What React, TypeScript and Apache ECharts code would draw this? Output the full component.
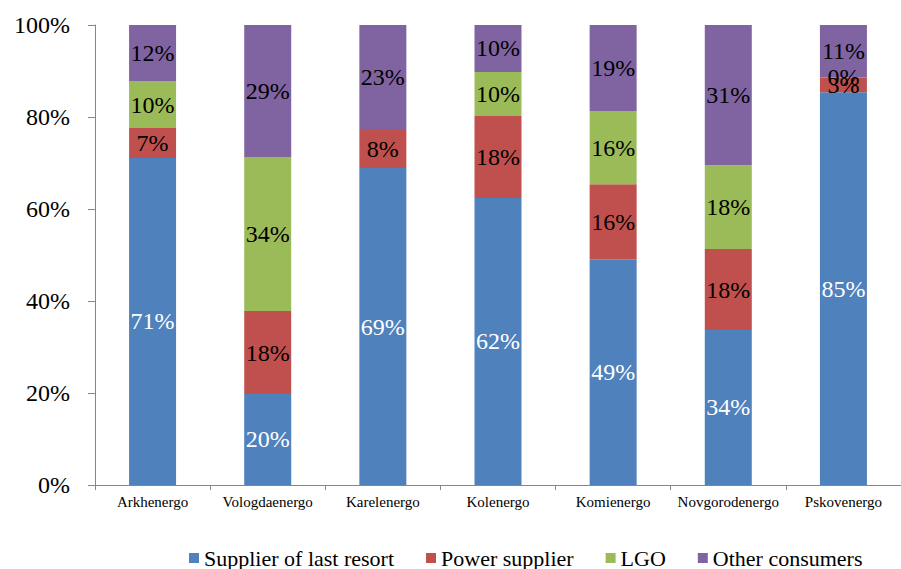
import React, { useEffect, useRef } from "react";
import * as echarts from "echarts";

const categories = ["Arkhenergo", "Vologdaenergo", "Karelenergo", "Kolenergo", "Komienergo", "Novgorodenergo", "Pskovenergo"];
const supplierOfLastResort = [71.1, 19.8, 68.9, 62.4, 49.1, 33.7, 85.4];
const powerSupplier = [6.5, 18.0, 8.3, 17.8, 16.3, 17.6, 3.2];
const lgo: (number | null)[] = [10.2, 33.5, null, 9.6, 15.9, 18.2, 0];
const otherConsumers = [12.2, 28.7, 22.8, 10.2, 18.7, 30.5, 11.4];

const FONT = "Liberation Serif";

export default function App() {
  const ref = useRef<HTMLDivElement>(null);
  useEffect(() => {
    if (!ref.current) return;
    const chart = echarts.init(ref.current, null, { renderer: "svg" });
    const mk = (name: string, data: (number | null)[], color: string, labelColor: string) => ({
      name,
      type: "bar",
      stack: "total",
      data,
      barWidth: 47,
      itemStyle: { color },
      label: {
        show: true,
        position: "inside",
        color: labelColor,
        fontFamily: FONT,
        fontSize: 24,
        formatter: (p: any) => (p.value == null ? "" : Math.round(p.value) + "%"),
      },
    });
    chart.setOption({
      animation: false,
      textStyle: { fontFamily: FONT },
      grid: { left: 95, top: 25, width: 814, height: 460, containLabel: false },
      legend: {
        top: 547,
        left: 189,
        padding: 0,
        itemWidth: 10,
        itemHeight: 10,
        itemGap: 32,
        icon: "rect",
        textStyle: { fontFamily: FONT, fontSize: 22, color: "#000" },
        data: ["Supplier of last resort", "Power supplier", "LGO", "Other consumers"],
      },
      xAxis: {
        type: "category",
        data: categories,
        axisLine: { lineStyle: { color: "#868686" } },
        axisTick: { show: true, length: 5, lineStyle: { color: "#868686" } },
        axisLabel: { color: "#000", fontFamily: FONT, fontSize: 15, margin: 9, interval: 0 },
      },
      yAxis: {
        type: "value",
        min: 0,
        max: 100,
        interval: 20,
        splitLine: { show: false },
        axisLine: { show: true, lineStyle: { color: "#868686" } },
        axisTick: { show: true, length: 7, lineStyle: { color: "#868686" } },
        axisLabel: { color: "#000", fontFamily: FONT, fontSize: 24, margin: 25, formatter: "{value}%" },
      },
      series: [
        mk("Supplier of last resort", supplierOfLastResort, "#4F81BD", "#fff"),
        mk("Power supplier", powerSupplier, "#C0504D", "#000"),
        mk("LGO", lgo, "#9BBB59", "#000"),
        mk("Other consumers", otherConsumers, "#8064A2", "#000"),
      ],
    });
    return () => chart.dispose();
  }, []);
  return <div ref={ref} style={{ position: "fixed", left: 0, top: 0, width: 901, height: 569, background: "#fff" }} />;
}
